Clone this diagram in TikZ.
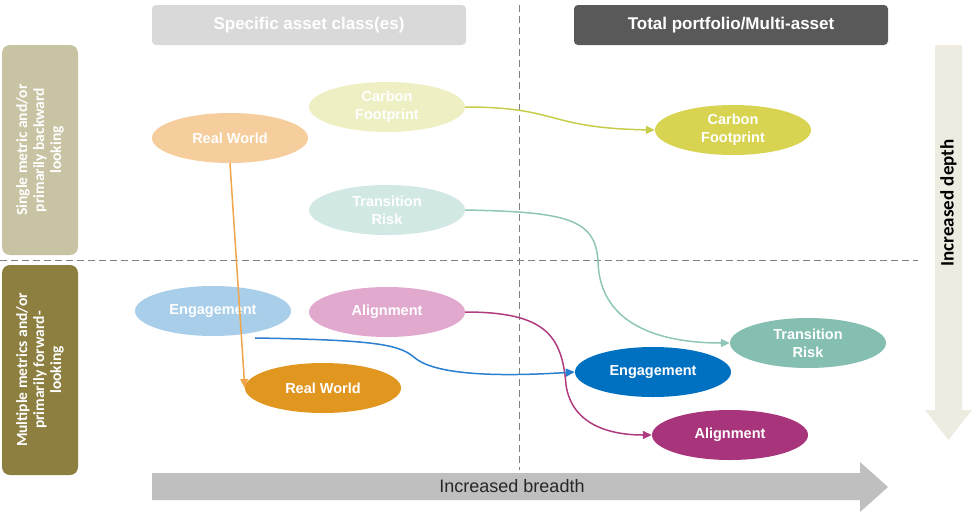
\documentclass[tikz,border=0pt]{standalone}
\usepackage{fontspec}
\setmainfont{Liberation Sans}
\newfontfamily\calfont{Carlito}
\usetikzlibrary{shapes.geometric,arrows.meta}
\definecolor{hdrL}{HTML}{D9D9D9}
\definecolor{hdrR}{HTML}{595959}
\definecolor{boxT}{HTML}{C8C3A2}
\definecolor{boxB}{HTML}{8D7F40}
\definecolor{depthC}{HTML}{EEECE1}
\definecolor{breadC}{HTML}{BFBFBF}
\definecolor{rwL}{HTML}{F6CD9C}
\definecolor{cfL}{HTML}{EEF0C4}
\definecolor{trL}{HTML}{D2E8E4}
\definecolor{enL}{HTML}{A9CEEA}
\definecolor{alL}{HTML}{E2A9CF}
\definecolor{rwD}{HTML}{E0961F}
\definecolor{cfD}{HTML}{D8D452}
\definecolor{trD}{HTML}{84BFB1}
\definecolor{enD}{HTML}{0070C0}
\definecolor{alD}{HTML}{A8357B}
\definecolor{rwA}{HTML}{F0A54A}
\definecolor{cfA}{HTML}{C9CC4A}
\definecolor{trA}{HTML}{8FC6B8}
\definecolor{enA}{HTML}{2A7FD0}
\definecolor{alA}{HTML}{B03C80}
\tikzset{
  ell/.style={ellipse, minimum width=156pt, minimum height=50pt, inner sep=0pt,
    text=white, font=\fontsize{14.5}{18}\selectfont\bfseries, align=center},
  hdr/.style={rounded corners=4pt, minimum width=314pt, minimum height=40pt,
    font=\fontsize{17}{19}\selectfont\bfseries, text=white},
  sidebox/.style={rounded corners=8pt, minimum width=210pt, minimum height=76pt,
    rotate=90, text=white, align=center, font=\calfont\fontsize{15.5}{17}\selectfont\bfseries},
  conn/.style={line width=1.5pt, -{Triangle[length=9pt,width=8pt]}},
  sep/.style={gray, line width=0.9pt, dash pattern=on 7pt off 4pt}
}
\begin{document}
\begin{tikzpicture}[x=1pt,y=-1pt]
\useasboundingbox (0,0) rectangle (976,512);
% separators
\draw[sep] (519,5) -- (519,470);
\draw[sep] (0,260) -- (918,260);
% headers
\node[hdr, fill=hdrL] (h1) at (309,25) {Specific asset class(es)};
\node[hdr, fill=hdrR] (h2) at (731,25) {Total portfolio/Multi-asset};
% side boxes
\node[sidebox, fill=boxT] (s1) at (40,150) {Single metric and/or\\primarily backward\\looking};
\node[sidebox, fill=boxB] (s2) at (40,370) {Multiple metrics and/or\\primarily forward-\\looking};
% depth arrow
\fill[depthC] (935,45) -- (962,45) -- (962,410) -- (972,410) -- (948.5,440) -- (925,410) -- (935,410) -- cycle;
\node[rotate=90, font=\calfont\fontsize{19}{21}\selectfont\bfseries] (dl) at (948.5,203) {Increased depth};
% breadth arrow
\fill[breadC] (152,473) -- (860,473) -- (860,462) -- (888,487) -- (860,512) -- (860,500) -- (152,500) -- cycle;
\node[font=\fontsize{18}{20}\selectfont, text=black!85] (bl) at (512,486) {Increased breadth};
% ellipses
\node[ell, fill=rwL] (rw1) at (230,138) {Real World};
\node[ell, fill=cfL] (cf1) at (387,107) {Carbon\\Footprint};
\node[ell, fill=trL] (tr1) at (387,210) {Transition\\Risk};
\node[ell, fill=enL] (en1) at (213,311) {Engagement};
\node[ell, fill=alL] (al1) at (387,312) {Alignment};
\node[ell, fill=rwD] (rw2) at (323,388) {Real World};
\node[ell, fill=cfD] (cf2) at (733,130) {Carbon\\Footprint};
\node[ell, fill=trD] (tr2) at (808,343) {Transition\\Risk};
\node[ell, fill=enD] (en2) at (653,372) {Engagement};
\node[ell, fill=alD] (al2) at (730,435) {Alignment};
% connectors
\draw[conn, rwA] (rw1.south) -- (rw2.west);
\draw[conn, cfA] (cf1.east) .. controls (560,107) and (545,128) .. (cf2.west);
\draw[conn, trA] (tr1.east) .. controls (565,212) and (596,218) .. (598,262) .. controls (600,325) and (660,343) .. (tr2.west);
\draw[conn, alA] (al1.east) .. controls (545,312) and (562,335) .. (566,385) .. controls (572,425) and (610,435) .. (al2.west);
\coordinate (enS) at (255,338);
\draw[conn, enA] (enS) .. controls (380,340) and (400,345) .. (415,358) .. controls (432,372) and (480,378) .. (en2.west);
\end{tikzpicture}
\end{document}
